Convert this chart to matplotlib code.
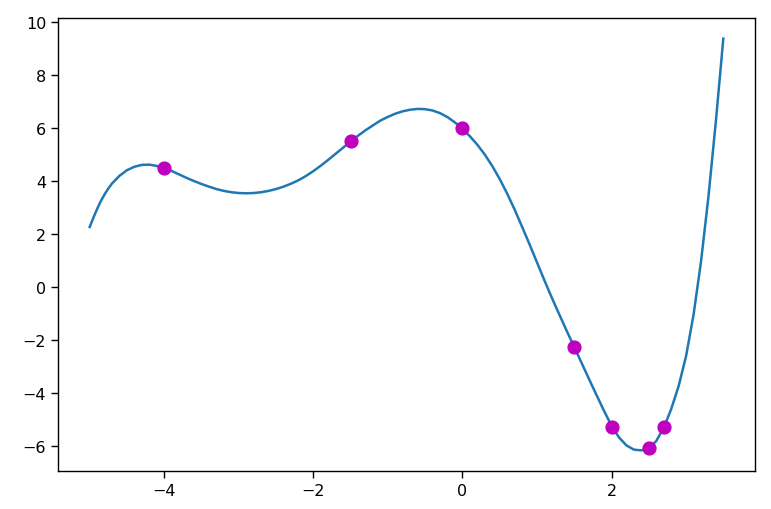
import matplotlib
matplotlib.use("Agg")
import matplotlib.pyplot as plt

curve_x = [-5.0, -4.95, -4.9, -4.85, -4.8, -4.75, -4.7, -4.6, -4.5, -4.4,
           -4.3, -4.2, -4.1, -4.0, -3.9, -3.8, -3.7, -3.6, -3.5, -3.4,
           -3.3, -3.2, -3.1, -3.0, -2.9, -2.8, -2.7, -2.6, -2.5, -2.4,
           -2.3, -2.2, -2.1, -2.0, -1.9, -1.8, -1.7, -1.6, -1.5, -1.4,
           -1.3, -1.2, -1.1, -1.0, -0.9, -0.8, -0.7, -0.6, -0.5, -0.4,
           -0.3, -0.2, -0.1, 0.0, 0.1, 0.2, 0.3, 0.4, 0.5, 0.6,
           0.7, 0.8, 0.9, 1.0, 1.1, 1.2, 1.3, 1.4, 1.5, 1.6,
           1.7, 1.8, 1.9, 2.0, 2.1, 2.2, 2.3, 2.4, 2.5, 2.6,
           2.7, 2.8, 2.9, 3.0, 3.1, 3.2, 3.3, 3.4, 3.5]
curve_y = [2.27, 2.62, 2.95, 3.25, 3.5, 3.72, 3.91, 4.2, 4.41, 4.54,
           4.61, 4.62, 4.57, 4.49, 4.38, 4.25, 4.12, 4.0, 3.89, 3.79,
           3.7, 3.63, 3.58, 3.55, 3.54, 3.55, 3.58, 3.63, 3.7, 3.79,
           3.9, 4.03, 4.19, 4.375, 4.58, 4.8, 5.03, 5.26, 5.49, 5.71,
           5.915, 6.1, 6.28, 6.42, 6.54, 6.63, 6.69, 6.72, 6.71, 6.66,
           6.56, 6.41, 6.21, 5.97, 5.69, 5.37, 5.0, 4.57, 4.08, 3.53,
           2.93, 2.28, 1.62, 0.94, 0.26, -0.4, -1.03, -1.65, -2.25, -2.86,
           -3.47, -4.07, -4.66, -5.22, -5.66, -5.96, -6.12, -6.15, -6.06, -5.8,
           -5.3, -4.6, -3.73, -2.6, -1.05, 0.95, 3.4, 6.25, 9.37]

# Marked points
point_x = [-4.0, -1.5, 0.0, 1.5, 2.0, 2.5, 2.7]
point_y = [4.5, 5.5, 6.0, -2.25, -5.25, -6.05, -5.25]

fig = plt.figure(figsize=(7.71, 5.10), dpi=100)
ax = fig.add_axes([58 / 771, (510 - 472) / 510, (755 - 58) / 771, (472 - 19) / 510])
ax.plot(curve_x, curve_y, color="#1f77b4", linewidth=1.8)
ax.scatter(point_x, point_y, color="m", s=85, zorder=3)
ax.tick_params(labelsize=11.5, length=5, width=1.0)
for s in ax.spines.values():
    s.set_linewidth(1.0)
fig.savefig("out.png", dpi=100)
